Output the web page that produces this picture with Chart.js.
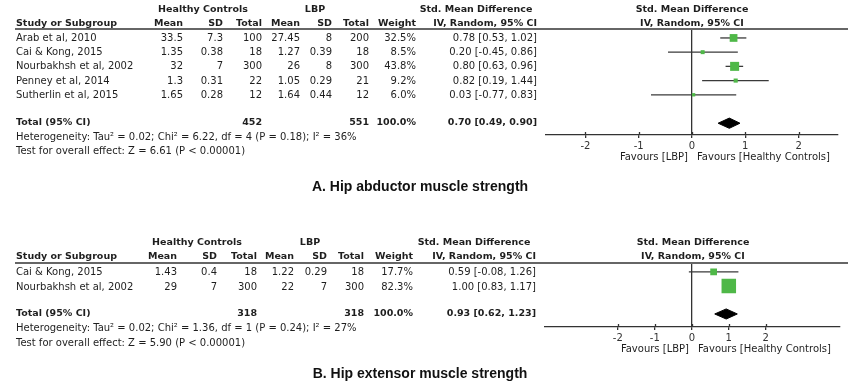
<!DOCTYPE html>
<html><head><meta charset="utf-8">
<script src="https://cdn.jsdelivr.net/npm/chart.js@4"></script>
<style>
html,body{margin:0;padding:0;background:#fff;}
#wrap{position:relative;width:850px;height:386px;overflow:hidden;font-family:"DejaVu Sans",sans-serif;font-size:10px;color:#1e1e1e;}
canvas{position:absolute;left:0;top:0;}
.t{position:absolute;white-space:nowrap;line-height:12px;}
.b{font-weight:bold;font-size:9.5px;}
.hl{position:absolute;height:0;border-top:2px solid #666;}
.cap{font-family:"Liberation Sans",Arial,sans-serif;font-weight:bold;font-size:14px;color:#111;line-height:16px;}
</style></head><body>
<div id="wrap"><canvas id="cA" width="850" height="386"></canvas><canvas id="cB" width="850" height="386"></canvas></div>
<script>
// ---------- Panel A: Hip abductor muscle strength ----------
const studiesA = ["Arab et al, 2010", "Cai & Kong, 2015", "Nourbakhsh et al, 2002", "Penney et al, 2014", "Sutherlin et al, 2015"];
const hcMeanA  = [33.5, 1.35, 32, 1.3, 1.65];
const hcSdA    = [7.3, 0.38, 7, 0.31, 0.28];
const hcTotalA = [100, 18, 300, 22, 12];
const lbpMeanA = [27.45, 1.27, 26, 1.05, 1.64];
const lbpSdA   = [8, 0.39, 8, 0.29, 0.44];
const lbpTotalA= [200, 18, 300, 21, 12];
const weightA  = [32.5, 8.5, 43.8, 9.2, 6.0];
const smdA     = [0.78, 0.20, 0.80, 0.82, 0.03];
const loA      = [0.53, -0.45, 0.63, 0.19, -0.77];
const hiA      = [1.02, 0.86, 0.96, 1.44, 0.83];
const totalA   = {hc: 452, lbp: 551, weight: 100.0, smd: 0.70, lo: 0.49, hi: 0.90};
const hetA     = "Heterogeneity: Tau² = 0.02; Chi² = 6.22, df = 4 (P = 0.18); I² = 36%";
const testA    = "Test for overall effect: Z = 6.61 (P < 0.00001)";
const ticksA   = [-2, -1, 0, 1, 2];

// ---------- Panel B: Hip extensor muscle strength ----------
const studiesB = ["Cai & Kong, 2015", "Nourbakhsh et al, 2002"];
const hcMeanB  = [1.43, 29];
const hcSdB    = [0.4, 7];
const hcTotalB = [18, 300];
const lbpMeanB = [1.22, 22];
const lbpSdB   = [0.29, 7];
const lbpTotalB= [18, 300];
const weightB  = [17.7, 82.3];
const smdB     = [0.59, 1.00];
const loB      = [-0.08, 0.83];
const hiB      = [1.26, 1.17];
const totalB   = {hc: 318, lbp: 318, weight: 100.0, smd: 0.93, lo: 0.62, hi: 1.23};
const hetB     = "Heterogeneity: Tau² = 0.02; Chi² = 1.36, df = 1 (P = 0.24); I² = 27%";
const testB    = "Test for overall effect: Z = 5.90 (P < 0.00001)";
const ticksB   = [-2, -1, 0, 1, 2];

const wrap = document.getElementById('wrap');
function txt(s, x, y, align, cls) {
  const d = document.createElement('div');
  d.className = 't' + (cls ? ' ' + cls : '');
  d.textContent = s;
  d.style.left = x + 'px';
  d.style.top = y + 'px';
  const tx = align === 'r' ? '-100%' : (align === 'c' ? '-50%' : '0');
  d.style.transform = 'translate(' + tx + ',-50%)';
  wrap.appendChild(d);
}
function hline(x1, x2, y) {
  const d = document.createElement('div');
  d.className = 'hl';
  d.style.left = x1 + 'px'; d.style.width = (x2 - x1) + 'px'; d.style.top = (y - 1) + 'px';
  wrap.appendChild(d);
}
const f2 = v => v.toFixed(2);
const ci = (e, l, h) => f2(e) + ' [' + f2(l) + ', ' + f2(h) + ']';

function table(P) {
  const L = P.lay;
  txt('Healthy Controls', L.hcCenter, L.h1, 'c', 'b');
  txt('LBP', L.lbpCenter, L.h1, 'c', 'b');
  txt('Std. Mean Difference', L.smdCenter, L.h1, 'c', 'b');
  txt('Std. Mean Difference', L.plotCenter, L.h1, 'c', 'b');
  txt('Study or Subgroup', 16, L.h2, 'l', 'b');
  txt('Mean', L.c[0], L.h2, 'r', 'b');
  txt('SD', L.c[1], L.h2, 'r', 'b');
  txt('Total', L.c[2], L.h2, 'r', 'b');
  txt('Mean', L.c[3], L.h2, 'r', 'b');
  txt('SD', L.c[4], L.h2, 'r', 'b');
  txt('Total', L.c[5], L.h2, 'r', 'b');
  txt('Weight', L.c[6], L.h2, 'r', 'b');
  txt('IV, Random, 95% CI', L.c[7], L.h2, 'r', 'b');
  txt('IV, Random, 95% CI', L.plotCenter, L.h2, 'c', 'b');
  hline(15, 848, L.line);
  P.studies.forEach((s, i) => {
    const y = L.r0 + i * L.rs;
    txt(s, 16, y, 'l');
    txt(String(P.hcMean[i]), L.c[0], y, 'r');
    txt(String(P.hcSd[i]), L.c[1], y, 'r');
    txt(String(P.hcTotal[i]), L.c[2], y, 'r');
    txt(String(P.lbpMean[i]), L.c[3], y, 'r');
    txt(String(P.lbpSd[i]), L.c[4], y, 'r');
    txt(String(P.lbpTotal[i]), L.c[5], y, 'r');
    txt(P.weight[i].toFixed(1) + '%', L.c[6], y, 'r');
    txt(ci(P.smd[i], P.lo[i], P.hi[i]), L.c[7], y, 'r');
  });
  const T = P.total;
  txt('Total (95% CI)', 16, L.tot, 'l', 'b');
  txt(String(T.hc), L.c[2], L.tot, 'r', 'b');
  txt(String(T.lbp), L.c[5], L.tot, 'r', 'b');
  txt(T.weight.toFixed(1) + '%', L.c[6], L.tot, 'r', 'b');
  txt(ci(T.smd, T.lo, T.hi), L.c[7], L.tot, 'r', 'b');
  txt(P.het, 16, L.het, 'l');
  txt(P.test, 16, L.test, 'l');
  txt('Favours [LBP]', L.favR, L.fav, 'r');
  txt('Favours [Healthy Controls]', L.favL, L.fav, 'l');
  txt(P.caption, 420, L.cap, 'c', 'cap');
}

// small plugin: make tick marks cross the axis line (extend above it too)
const crossTicks = {
  id: 'crossTicks',
  afterDraw(chart) {
    const x = chart.scales.x, ctx = chart.ctx, yb = chart.chartArea.bottom;
    ctx.save();
    ctx.strokeStyle = '#333'; ctx.lineWidth = 1.3;
    x.ticks.forEach(t => {
      const px = Math.round(x.getPixelForValue(t.value)) + 0.5;
      ctx.beginPath(); ctx.moveTo(px, yb - 3); ctx.lineTo(px, yb); ctx.stroke();
    });
    ctx.restore();
  }
};

function plot(P) {
  const S = P.sty, n = P.studies.length, ty = n + S.totGap;
  const ds = [];
  ds.push({ data: P.smd.map((v, i) => ({x: v, y: i})), pointStyle: 'rect',
    pointRadius: P.weight.map(w => S.k * Math.sqrt(w) / Math.SQRT2),
    backgroundColor: '#4fb848', borderWidth: 0, order: 0 });
  P.studies.forEach((s, i) => ds.push({ data: [{x: P.lo[i], y: i}, {x: P.hi[i], y: i}],
    showLine: true, borderColor: '#3a3a3a', borderWidth: 1.3, pointRadius: 0, order: 1 }));
  const T = P.total;
  ds.push({ data: [{x: T.lo, y: ty}, {x: T.smd, y: ty - S.dh}, {x: T.hi, y: ty}, {x: T.smd, y: ty + S.dh}, {x: T.lo, y: ty}],
    showLine: true, fill: 'shape', backgroundColor: '#000', borderColor: '#000', borderWidth: 1, pointRadius: 0, order: 0 });
  new Chart(document.getElementById(P.canvas), {
    type: 'scatter',
    data: { datasets: ds },
    plugins: [crossTicks],
    options: {
      responsive: false, animation: false, devicePixelRatio: 1, events: [],
      layout: { padding: S.pad },
      plugins: { legend: { display: false }, tooltip: { enabled: false } },
      scales: {
        x: { type: 'linear', min: S.xmin, max: S.xmax,
          afterBuildTicks: s => { s.ticks = P.ticks.map(v => ({value: v})); },
          afterFit: s => { s.height = 30; },
          grid: { drawOnChartArea: true, drawTicks: true, tickLength: 3, lineWidth: 1.3,
            color: c => (c.tick && c.tick.value === 0) ? '#333' : 'rgba(0,0,0,0)', tickColor: '#333' },
          border: { display: true, color: '#333', width: 1.3 },
          ticks: { color: '#333', padding: 2, font: { family: 'DejaVu Sans', size: 10 }, callback: v => String(v) } },
        y: { type: 'linear', reverse: true, min: S.ymin, max: S.ymax, display: false }
      }
    }
  });
}

const PA = { canvas: 'cA', studies: studiesA, hcMean: hcMeanA, hcSd: hcSdA, hcTotal: hcTotalA,
  lbpMean: lbpMeanA, lbpSd: lbpSdA, lbpTotal: lbpTotalA, weight: weightA, smd: smdA, lo: loA, hi: hiA,
  total: totalA, het: hetA, test: testA, ticks: ticksA, caption: 'A. Hip abductor muscle strength',
  lay: { h1: 9, h2: 23, line: 29, r0: 38, rs: 14.2, tot: 122, het: 136.5, test: 151, fav: 157, favR: 688, favL: 697, cap: 186,
    c: [183, 223, 262, 300, 332, 369, 416, 537], hcCenter: 203, lbpCenter: 315, smdCenter: 476, plotCenter: 692 },
  sty: { k: 1.36, totGap: 1, dh: 0.36, xmin: -2.74, xmax: 2.74, ymin: -0.63, ymax: 6.83,
    pad: { left: 546, right: 12, top: 29, bottom: 221 } } };

const PB = { canvas: 'cB', studies: studiesB, hcMean: hcMeanB, hcSd: hcSdB, hcTotal: hcTotalB,
  lbpMean: lbpMeanB, lbpSd: lbpSdB, lbpTotal: lbpTotalB, weight: weightB, smd: smdB, lo: loB, hi: hiB,
  total: totalB, het: hetB, test: testB, ticks: ticksB, caption: 'B. Hip extensor muscle strength',
  lay: { h1: 242, h2: 256, line: 263, r0: 272, rs: 14.5, tot: 313, het: 328, test: 343, fav: 349, favR: 689, favL: 698, cap: 373,
    c: [177, 217, 257, 294, 327, 364, 413, 536], hcCenter: 197, lbpCenter: 310, smdCenter: 474, plotCenter: 693 },
  sty: { k: 1.6, totGap: 1, dh: 0.36, xmin: -3.97, xmax: 4.0, ymin: -0.64, ymax: 3.93,
    pad: { left: 545, right: 8, top: 263, bottom: 29 } } };

table(PA); table(PB);
plot(PA); plot(PB);
</script>
</body></html>
